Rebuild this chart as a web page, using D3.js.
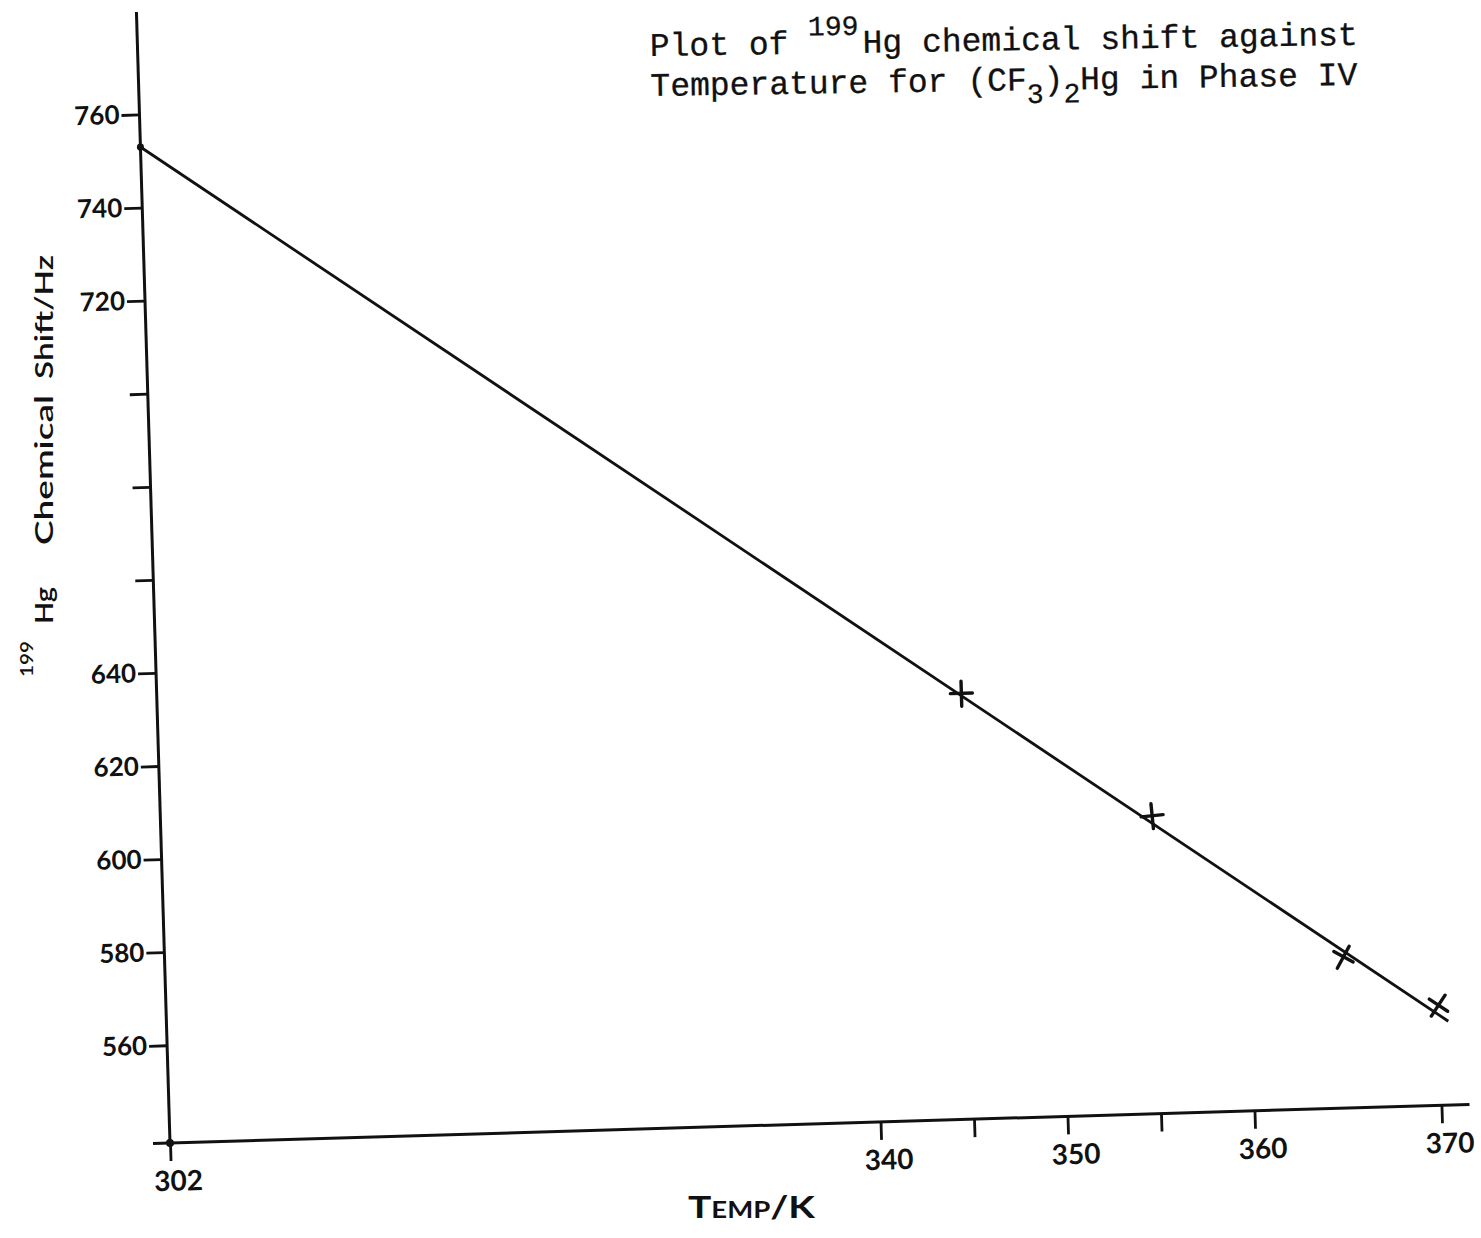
<!DOCTYPE html>
<html>
<head>
<meta charset="utf-8">
<script src="https://cdn.jsdelivr.net/npm/d3@7"></script>
<style>
  html, body { margin: 0; padding: 0; background: #fff; }
  svg { display: block; }
</style>
</head>
<body>
<div id="chart"></div>
<script>
// measured points (crosses)
const temps = [345, 355, 365, 370];
const shifts = [630.5, 603, 571.5, 560.5];

// hand drawn best line, end to end
const fitTemps = [302, 370.5];
const fitShifts = [753, 557];

const xTicks = [302, 340, 345, 350, 355, 360, 370];
const xTickLabels = ["302", "340", "", "350", "", "360", "370"];
const yTicks = [560, 580, 600, 620, 640, 660, 680, 700, 720, 740, 760];
const yTickLabels = ["560", "580", "600", "620", "640", "", "", "", "720", "740", "760"];

const W = 1481, H = 1238;
const ink = "#111";
const hand = "Lato, 'Open Sans', sans-serif";

const svg = d3.select("#chart").append("svg").attr("width", W).attr("height", H);

// the scan sits slightly rotated on the page
const plot = svg.append("g").attr("transform", "translate(170,1143) rotate(-1.7)");

const x = d3.scaleLinear().domain([302, 370]).range([0, 1272]);
const y = d3.scaleLinear().domain([539, 760]).range([0, -1029]);

// axis lines
plot.append("line")
  .attr("x1", -17).attr("x2", x(371.5)).attr("y1", 0).attr("y2", 0)
  .attr("stroke", ink).attr("stroke-width", 3);
plot.append("line")
  .attr("x1", 0).attr("x2", 0).attr("y1", 0).attr("y2", y(782))
  .attr("stroke", ink).attr("stroke-width", 3);
plot.append("circle").attr("r", 4).attr("fill", ink);

const xAxis = plot.append("g")
  .call(d3.axisBottom(x).tickValues(xTicks).tickFormat((d, i) => xTickLabels[i])
    .tickSize(18).tickPadding(10).tickSizeOuter(0));
xAxis.select(".domain").remove();
xAxis.selectAll(".tick line").attr("stroke", ink).attr("stroke-width", 2.8);
xAxis.selectAll(".tick text")
  .attr("dx", 7).attr("fill", ink)
  .style("font-family", hand).style("font-size", "28px").style("font-weight", 700);

const yAxis = plot.append("g")
  .call(d3.axisLeft(y).tickValues(yTicks).tickFormat((d, i) => yTickLabels[i])
    .tickSize(18).tickPadding(2).tickSizeOuter(0));
yAxis.select(".domain").remove();
yAxis.selectAll(".tick line").attr("stroke", ink).attr("stroke-width", 2.8);
yAxis.selectAll(".tick text")
  .attr("fill", ink)
  .style("font-family", hand).style("font-size", "26px").style("font-weight", 700);

// fitted line
const line = d3.line().x(d => x(d[0])).y(d => y(d[1]));
plot.append("path")
  .datum(d3.zip(fitTemps, fitShifts))
  .attr("d", line)
  .attr("fill", "none").attr("stroke", ink).attr("stroke-width", 2.8);
plot.append("circle")
  .attr("cx", x(fitTemps[0])).attr("cy", y(fitShifts[0]))
  .attr("r", 3.5).attr("fill", ink);

// crosses, tilted a little differently each time
const markTilt = [0, -4, 30, 35];
const marks = plot.selectAll(".mark")
  .data(d3.zip(temps, shifts))
  .join("g")
  .attr("class", "mark")
  .attr("transform", (d, i) => `translate(${x(d[0])},${y(d[1])}) rotate(${markTilt[i]})`);
marks.append("line").attr("x1", -11).attr("x2", 11).attr("y1", 0).attr("y2", 0);
marks.append("line").attr("x1", 0).attr("x2", 0).attr("y1", -12).attr("y2", 13);
marks.selectAll("line").attr("stroke", ink).attr("stroke-width", 3.4).attr("stroke-linecap", "round");

// x axis title
svg.append("text")
  .attr("x", 688).attr("y", 1218)
  .attr("textLength", 127).attr("lengthAdjust", "spacingAndGlyphs")
  .attr("fill", ink)
  .style("font-family", hand).style("font-size", "31px").style("font-weight", 700)
  .style("font-variant", "small-caps")
  .text("Temp/K");

// y axis title, written bottom to top
const yt = svg.append("g").attr("transform", "translate(53,0) rotate(-90)")
  .attr("fill", ink).style("font-family", hand).style("font-weight", 600);
yt.append("text").attr("x", -677).attr("y", -20)
  .attr("textLength", 36).attr("lengthAdjust", "spacingAndGlyphs")
  .style("font-size", "17px").text("199");
yt.append("text").attr("x", -624).attr("y", 0)
  .attr("textLength", 37).attr("lengthAdjust", "spacingAndGlyphs")
  .style("font-size", "25px").text("Hg");
yt.append("text").attr("x", -545).attr("y", 0)
  .attr("textLength", 150).attr("lengthAdjust", "spacingAndGlyphs")
  .style("font-size", "25px").text("Chemical");
yt.append("text").attr("x", -379).attr("y", 0)
  .attr("textLength", 124).attr("lengthAdjust", "spacingAndGlyphs")
  .style("font-size", "25px").text("Shift/Hz");

// typed title
const title = svg.append("g").attr("transform", "rotate(-0.9,650,57)")
  .attr("fill", ink)
  .style("font-family", "'Liberation Mono', 'DejaVu Sans Mono', monospace")
  .style("font-size", "33px")
  .attr("stroke", ink).attr("stroke-width", 0.3);

const t1 = title.append("text").attr("x", 650).attr("y", 56).attr("xml:space", "preserve");
t1.append("tspan").text("Plot of ");
t1.append("tspan").attr("dy", -18).style("font-size", "28px").text("199");
t1.append("tspan").attr("dy", 18).attr("dx", 4).text("Hg chemical shift against");

const t2 = title.append("text").attr("x", 650).attr("y", 96).attr("xml:space", "preserve");
t2.append("tspan").text("Temperature for (CF");
t2.append("tspan").attr("dy", 13).style("font-size", "28px").text("3");
t2.append("tspan").attr("dy", -13).text(")");
t2.append("tspan").attr("dy", 13).style("font-size", "28px").text("2");
t2.append("tspan").attr("dy", -13).text("Hg in Phase IV");
</script>
</body>
</html>
